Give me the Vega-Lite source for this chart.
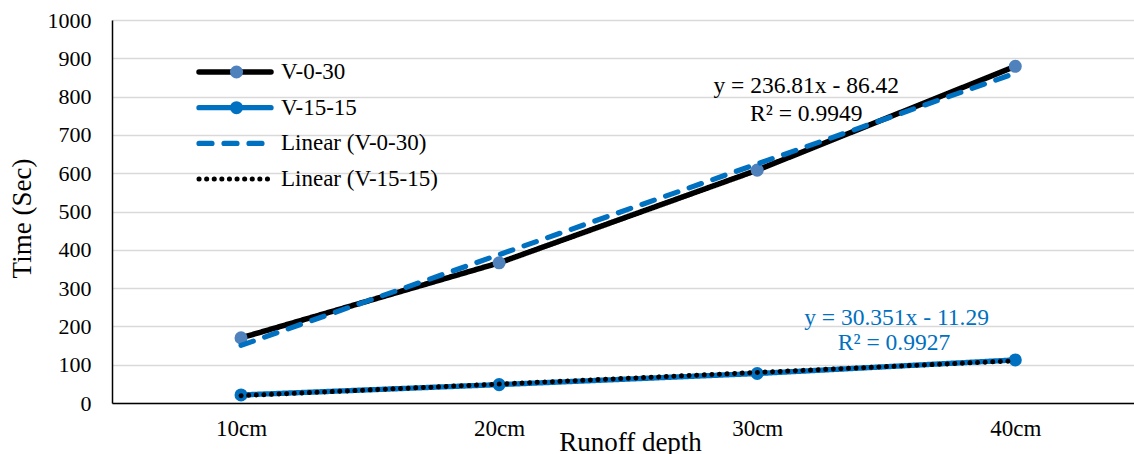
{
  "$schema": "https://vega.github.io/schema/vega-lite/v6.json",
  "width": 1022,
  "height": 383,
  "autosize": {"type": "none"},
  "padding": {"left": 112, "top": 20, "right": 0, "bottom": 51},
  "background": "white",
  "config": {
    "font": "Liberation Serif",
    "view": {"stroke": null},
    "axisX": {
      "grid": false, "ticks": false, "domainColor": "black", "domainWidth": 1.5,
      "labelFont": "Liberation Serif", "labelColor": "black", "labelFontSize": 23, "labelPadding": 14,
      "titleFont": "Liberation Serif", "titleColor": "black", "titleFontWeight": "normal",
      "titleFontSize": 27, "titleX": 518, "titleY": 47, "titleBaseline": "alphabetic", "titleAlign": "center"
    },
    "axisY": {
      "labelOverlap": false, "grid": true, "gridColor": "#d9d9d9", "gridWidth": 1.3, "ticks": false,
      "domainColor": "black", "domainWidth": 1.5,
      "labelFont": "Liberation Serif", "labelColor": "black", "labelFontSize": 22, "labelPadding": 21,
      "titleFont": "Liberation Serif", "titleColor": "black", "titleFontWeight": "normal",
      "titleFontSize": 27, "titleX": -90, "titleY": 198, "titleBaseline": "middle", "titleAlign": "center", "titleAngle": -90
    },
    "legend": {"labelFont": "Liberation Serif"}
  },
  "data": {
    "values": [
      {"depth": 10, "time": 170, "series": "V-0-30", "trend": "Linear (V-0-30)"},
      {"depth": 20, "time": 366, "series": "V-0-30", "trend": "Linear (V-0-30)"},
      {"depth": 30, "time": 608, "series": "V-0-30", "trend": "Linear (V-0-30)"},
      {"depth": 40, "time": 879, "series": "V-0-30", "trend": "Linear (V-0-30)"},
      {"depth": 10, "time": 21, "series": "V-15-15", "trend": "Linear (V-15-15)"},
      {"depth": 20, "time": 48, "series": "V-15-15", "trend": "Linear (V-15-15)"},
      {"depth": 30, "time": 77, "series": "V-15-15", "trend": "Linear (V-15-15)"},
      {"depth": 40, "time": 112.5, "series": "V-15-15", "trend": "Linear (V-15-15)"}
    ]
  },
  "layer": [
    {
      "mark": {"type": "line", "strokeCap": "round", "strokeJoin": "round"},
      "encoding": {
        "x": {
          "field": "depth", "type": "quantitative",
          "scale": {"domain": [5, 44.6], "nice": false, "zero": false},
          "axis": {"values": [10, 20, 30, 40], "labelExpr": "datum.value + 'cm'", "title": "Runoff depth"}
        },
        "y": {
          "field": "time", "type": "quantitative",
          "scale": {"domain": [0, 1000], "nice": false},
          "axis": {"values": [0, 100, 200, 300, 400, 500, 600, 700, 800, 900, 1000], "format": "d", "title": "Time (Sec)"}
        },
        "color": {
          "field": "series", "type": "nominal",
          "scale": {"domain": ["V-0-30", "V-15-15", "Linear (V-0-30)", "Linear (V-15-15)"], "range": ["#000000", "#0070C0", "#0070C0", "#000000"]},
          "legend": {
            "title": null, "orient": "none", "legendX": 84, "legendY": 41,
            "symbolType": "stroke", "symbolSize": 5184, "clipHeight": 22, "rowPadding": 12.7,
            "labelFont": "Liberation Serif", "labelFontSize": 23, "labelColor": "black", "labelOffset": 7,
            "padding": 0,
            "encode": {"symbols": {"update": {"strokeCap": {"value": "round"}}}}
          }
        },
        "strokeDash": {
          "field": "series", "type": "nominal",
          "scale": {"domain": ["V-0-30", "V-15-15", "Linear (V-0-30)", "Linear (V-15-15)"], "range": [[1, 0], [1, 0], [13, 12], [0.1, 7.5]]}
        },
        "strokeWidth": {
          "field": "series", "type": "nominal",
          "scale": {"domain": ["V-0-30", "V-15-15", "Linear (V-0-30)", "Linear (V-15-15)"], "range": [5.5, 5, 4, 3.5]}
        }
      }
    },
    {
      "mark": {"type": "point", "filled": true, "opacity": 1, "size": 170},
      "encoding": {
        "x": {"field": "depth", "type": "quantitative", "axis": {"values": [10, 20, 30, 40], "labelExpr": "datum.value + 'cm'", "title": "Runoff depth"}},
        "y": {"field": "time", "type": "quantitative", "axis": {"values": [0, 100, 200, 300, 400, 500, 600, 700, 800, 900, 1000], "format": "d", "title": "Time (Sec)"}},
        "fill": {
          "field": "series", "type": "nominal",
          "scale": {"domain": ["V-0-30", "V-15-15"], "range": ["#4F81BD", "#0070C0"]},
          "legend": {
            "title": null, "orient": "none", "legendX": 113, "legendY": 41,
            "symbolType": "circle", "symbolSize": 170, "clipHeight": 22, "rowPadding": 12.7,
            "labelFontSize": 23, "labelExpr": "''", "padding": 0, "symbolStrokeWidth": 0, "symbolOpacity": 1
          }
        }
      }
    },
    {
      "transform": [
        {"regression": "time", "on": "depth", "groupby": ["trend"]}
      ],
      "mark": {"type": "line", "strokeCap": "round"},
      "encoding": {
        "x": {"field": "depth", "type": "quantitative", "axis": {"values": [10, 20, 30, 40], "labelExpr": "datum.value + 'cm'", "title": "Runoff depth"}},
        "y": {"field": "time", "type": "quantitative", "axis": {"values": [0, 100, 200, 300, 400, 500, 600, 700, 800, 900, 1000], "format": "d", "title": "Time (Sec)"}},
        "color": {"field": "trend", "type": "nominal"},
        "strokeDash": {"field": "trend", "type": "nominal"},
        "strokeWidth": {"field": "trend", "type": "nominal"}
      }
    },
    {
      "data": {"values": [{}]},
      "mark": {"type": "text", "font": "Liberation Serif", "fontSize": 23.5, "align": "center", "baseline": "alphabetic", "color": "black"},
      "encoding": {
        "x": {"datum": 31.9, "type": "quantitative", "axis": {"values": [10, 20, 30, 40], "labelExpr": "datum.value + 'cm'", "title": "Runoff depth"}},
        "y": {"datum": 809, "type": "quantitative", "axis": {"values": [0, 100, 200, 300, 400, 500, 600, 700, 800, 900, 1000], "format": "d", "title": "Time (Sec)"}},
        "text": {"value": "y = 236.81x - 86.42"}
      }
    },
    {
      "data": {"values": [{}]},
      "mark": {"type": "text", "font": "Liberation Serif", "fontSize": 23.5, "align": "center", "baseline": "alphabetic", "color": "black"},
      "encoding": {
        "x": {"datum": 31.9, "type": "quantitative", "axis": {"values": [10, 20, 30, 40], "labelExpr": "datum.value + 'cm'", "title": "Runoff depth"}},
        "y": {"datum": 735, "type": "quantitative", "axis": {"values": [0, 100, 200, 300, 400, 500, 600, 700, 800, 900, 1000], "format": "d", "title": "Time (Sec)"}},
        "text": {"value": "R² = 0.9949"}
      }
    },
    {
      "data": {"values": [{}]},
      "mark": {"type": "text", "font": "Liberation Serif", "fontSize": 23.5, "align": "center", "baseline": "alphabetic", "color": "#0070C0"},
      "encoding": {
        "x": {"datum": 35.4, "type": "quantitative", "axis": {"values": [10, 20, 30, 40], "labelExpr": "datum.value + 'cm'", "title": "Runoff depth"}},
        "y": {"datum": 204, "type": "quantitative", "axis": {"values": [0, 100, 200, 300, 400, 500, 600, 700, 800, 900, 1000], "format": "d", "title": "Time (Sec)"}},
        "text": {"value": "y = 30.351x - 11.29"}
      }
    },
    {
      "data": {"values": [{}]},
      "mark": {"type": "text", "font": "Liberation Serif", "fontSize": 23.5, "align": "center", "baseline": "alphabetic", "color": "#0070C0"},
      "encoding": {
        "x": {"datum": 35.3, "type": "quantitative", "axis": {"values": [10, 20, 30, 40], "labelExpr": "datum.value + 'cm'", "title": "Runoff depth"}},
        "y": {"datum": 139, "type": "quantitative", "axis": {"values": [0, 100, 200, 300, 400, 500, 600, 700, 800, 900, 1000], "format": "d", "title": "Time (Sec)"}},
        "text": {"value": "R² = 0.9927"}
      }
    }
  ]
}
